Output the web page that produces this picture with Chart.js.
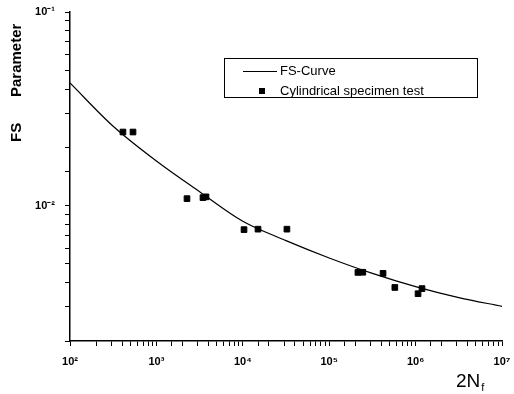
<!DOCTYPE html>
<html><head><meta charset="utf-8">
<script src="https://cdn.jsdelivr.net/npm/chart.js@4/dist/chart.umd.min.js"></script>
<style>html,body{margin:0;padding:0;background:#fff}#wrap{width:514px;height:394px}</style>
</head><body><div id="wrap"><canvas id="c" width="514" height="394"></canvas></div>
<script>
// FS-Curve
const curveN = [1e2, 316, 1e3, 3162, 1e4, 31623, 1e5, 316228, 1e6, 3162278, 1e7];
const curveFS = [0.043, 0.0257, 0.0170, 0.0118, 0.0083, 0.0066, 0.00537, 0.00447, 0.00382, 0.00335, 0.00302];
// Cylindrical specimen test points
const testN = [410, 536, 2260, 3460, 3750, 10330, 15000, 32400, 215000, 245000, 420000, 575000, 1067000, 1186000];
const testFS = [0.0240, 0.0240, 0.01087, 0.0110, 0.0111, 0.00752, 0.00756, 0.00756, 0.00452, 0.00453, 0.00447, 0.00378, 0.00351, 0.00373];
const seriesLabels = ['FS-Curve', 'Cylindrical specimen test'];
const xTitle = '2N';
const xTitleSub = 'f';
const yTitleParts = ['FS', 'Parameter'];

const sup = {'-':'⁻','0':'⁰','1':'¹','2':'²','3':'³','4':'⁴','5':'⁵','6':'⁶','7':'⁷','8':'⁸','9':'⁹'};
function powLabel(v){
  const l = Math.log10(v);
  const r = Math.round(l);
  if (Math.abs(l - r) > 1e-6) return '';
  return '10' + String(r).split('').map(ch => sup[ch]).join('');
}
const FONT = 'Liberation Sans, Arial, sans-serif';

const textPlugin = {
  id: 'boxLegend',
  afterDraw(chart){
    const ctx = chart.ctx;
    const x0 = 224, y0 = 58, w = 253, h = 39;
    ctx.save();
    ctx.strokeStyle = '#000'; ctx.lineWidth = 1;
    ctx.strokeRect(x0 + 0.5, y0 + 0.5, w, h);
    ctx.font = '13px ' + FONT; ctx.fillStyle = '#000'; ctx.textBaseline = 'middle';
    ctx.beginPath(); ctx.moveTo(243, 71.5); ctx.lineTo(277, 71.5); ctx.stroke();
    ctx.fillText(chart.data.datasets[0].label, 280, 71);
    ctx.fillRect(259, 88, 6, 6);
    ctx.fillText(chart.data.datasets[1].label, 280, 91);
    // x title with subscript
    ctx.font = '19px ' + FONT;
    ctx.textBaseline = 'alphabetic';
    ctx.fillText(xTitle, 456, 387);
    const tw = ctx.measureText(xTitle).width;
    ctx.font = '11px ' + FONT;
    ctx.fillText(xTitleSub, 456 + tw + 1, 391);
    // y title
    ctx.translate(21, 0);
    ctx.rotate(-Math.PI / 2);
    ctx.font = 'bold 15px ' + FONT;
    ctx.textAlign = 'left';
    ctx.fillText(yTitleParts[0], -142, 0);
    ctx.fillText(yTitleParts[1], -97, 0);
    ctx.restore();
  }
};

new Chart(document.getElementById('c'), {
  type: 'scatter',
  data: {
    datasets: [
      {
        label: seriesLabels[0],
        type: 'line',
        data: curveN.map((n, i) => ({x: n, y: curveFS[i]})),
        borderColor: '#000', borderWidth: 1.2, pointRadius: 0,
        cubicInterpolationMode: 'monotone', fill: false, order: 2
      },
      {
        label: seriesLabels[1],
        data: testN.map((n, i) => ({x: n, y: testFS[i]})),
        backgroundColor: '#000', borderColor: '#000',
        pointStyle: 'rect', pointRadius: 4, order: 1
      }
    ]
  },
  options: {
    responsive: false, animation: false,
    layout: {padding: {top: 12, right: 12, left: 0, bottom: 0}},
    plugins: {legend: {display: false}, tooltip: {enabled: false}},
    scales: {
      x: {
        type: 'logarithmic', min: 1e2, max: 1e7,
        border: {display: true, color: '#000', width: 1.5},
        grid: {drawOnChartArea: false, drawTicks: true, tickLength: 5, color: '#000'},
        ticks: {
          autoSkip: false, maxRotation: 0, color: '#000', padding: 9,
          font: {family: FONT, size: 11, weight: 'bold'},
          callback: (v) => powLabel(v)
        },
        afterFit: (s) => { s.height = 53; s.paddingLeft = 0; s.paddingRight = 0; }
      },
      y: {
        type: 'logarithmic', min: 0.002, max: 0.1,
        border: {display: true, color: '#000', width: 1.5},
        grid: {drawOnChartArea: false, drawTicks: true, tickLength: 5, color: '#000'},
        ticks: {
          autoSkip: false, color: '#000', padding: 10,
          font: {family: FONT, size: 11, weight: 'bold'},
          callback: (v) => powLabel(v)
        },
        afterFit: (s) => { s.width = 70; s.paddingTop = 0; s.paddingBottom = 0; }
      }
    }
  },
  plugins: [textPlugin]
});
</script></body></html>
